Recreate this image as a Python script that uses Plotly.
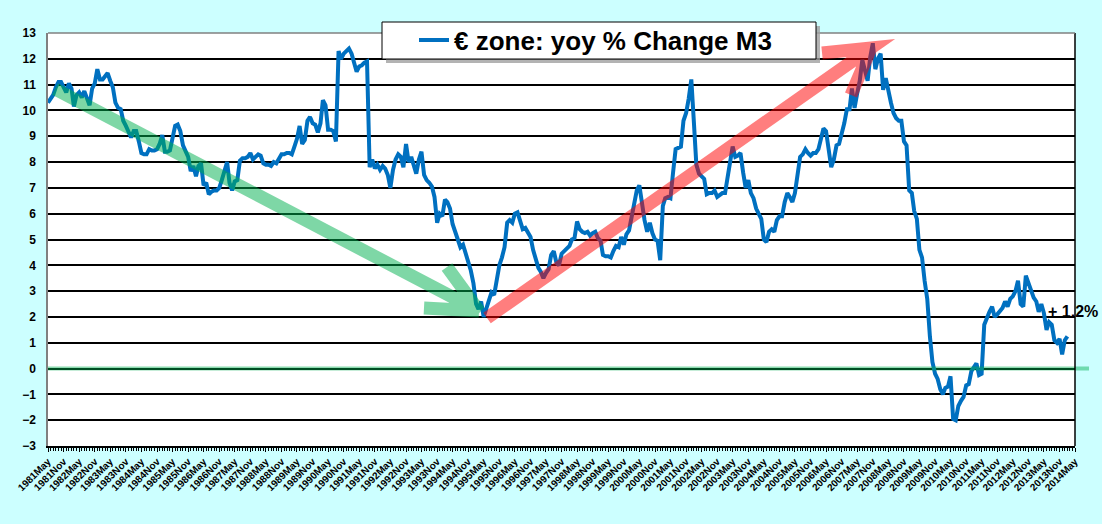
import pandas as pd
import plotly.graph_objects as go

# yoy % change of euro zone M3, monthly
m3_1981_1989 = [
    10.3, 10.45, 10.6, 10.9, 11.1, 11.1, 10.9, 10.7,
    11.05, 10.85, 10.15, 10.6, 10.7, 10.5, 10.75, 10.45, 10.2, 10.85, 11.05, 11.6,
    11.2, 11.2, 11.3, 11.45, 11.15, 10.9, 10.3, 10.1, 10.05, 9.6, 9.4, 9.2,
    8.95, 9.2, 9.2, 8.8, 8.35, 8.3, 8.3, 8.5, 8.45, 8.45, 8.5, 8.7,
    9.05, 8.4, 8.4, 8.45, 8.85, 9.4, 9.45, 9.2, 8.65, 8.4, 8.2, 7.65,
    7.85, 7.45, 7.85, 7.95, 7.1, 7.2, 6.75, 6.85, 6.9, 6.9, 7.0, 7.3,
    7.6, 8.0, 7.2, 6.9, 7.25, 7.3, 8.05, 8.15, 8.15, 8.2, 8.35, 8.1,
    8.2, 8.3, 8.25, 7.95, 7.9, 7.9, 7.85, 8.0, 7.95, 8.15, 8.3, 8.3,
    8.35, 8.35, 8.3, 8.6, 8.9, 9.4, 8.7, 8.85, 9.6, 9.75, 9.5, 9.45,
]
m3_1990_1999 = [
    9.15, 9.5, 10.4, 10.2, 9.25, 9.25, 9.2, 8.8, 12.3, 12.0, 12.2, 12.3,
    12.4, 12.2, 11.8, 11.5, 11.7, 11.75, 11.85, 11.9, 7.8, 8.1, 7.75, 7.9,
    7.7, 7.85, 7.75, 7.5, 7.0, 7.7, 8.1, 8.3, 8.2, 7.8, 8.7, 8.0,
    8.2, 7.8, 7.55, 8.1, 8.4, 7.5, 7.3, 7.2, 7.05, 6.65, 5.65, 6.0,
    5.9, 6.55, 6.45, 6.2, 5.6, 5.3, 5.0, 4.7, 4.8, 4.5, 4.1, 3.8,
    3.3, 2.5, 2.3, 2.6, 2.0, 2.3, 2.6, 2.95, 2.85, 3.4, 4.0, 4.3,
    4.7, 5.65, 5.75, 5.65, 6.0, 6.05, 5.75, 5.4, 5.45, 5.25, 5.1, 4.6,
    4.2, 3.9, 3.75, 3.5, 3.7, 3.85, 4.4, 4.55, 4.1, 4.0, 4.45, 4.55,
    4.65, 4.75, 5.0, 5.05, 5.7, 5.4, 5.3, 5.25, 5.3, 5.15, 5.25, 5.3,
    5.05, 4.95, 4.4, 4.35, 4.35, 4.3, 4.55, 4.75, 4.7, 5.1, 4.8, 5.2,
]
m3_2000_2009 = [
    5.35, 5.9, 6.4, 6.9, 7.1, 6.4, 5.75, 5.3, 5.65, 5.25, 5.0, 4.95,
    4.2, 6.3, 6.6, 6.65, 6.6, 7.6, 8.5, 8.55, 8.6, 9.6, 9.9, 10.45,
    11.2, 9.5, 7.9, 7.55, 7.45, 7.35, 6.75, 6.8, 6.8, 6.9, 6.65, 6.75,
    6.8, 6.8, 7.5, 8.0, 8.6, 8.2, 8.25, 8.35, 7.6, 7.0, 7.3, 6.8,
    6.6, 6.2, 6.0, 5.8, 5.0, 4.9, 5.3, 5.4, 5.3, 5.75, 5.9, 5.9,
    6.45, 6.8, 6.65, 6.45, 6.8, 7.5, 8.2, 8.3, 8.5, 8.35, 8.25, 8.35,
    8.35, 8.5, 8.9, 9.3, 9.2, 8.6, 7.8, 8.1, 8.65, 8.7, 9.1, 9.5,
    10.05, 10.05, 10.85, 10.1, 10.65, 11.15, 11.95, 11.55, 11.15, 12.05, 12.6, 11.6,
    12.0, 12.2, 10.8, 11.25, 10.7, 10.3, 9.9, 9.7, 9.6, 9.6, 8.8, 8.65,
    6.9, 6.8, 6.1, 5.8, 4.6, 4.3, 3.4, 2.7, 1.25, 0.25, -0.2, -0.4,
]
m3_2010_2014 = [
    -0.8, -1.0, -0.75, -0.7, -0.3, -1.95, -2.0, -1.45, -1.25, -1.1, -0.65, -0.6,
    -0.1, 0.05, 0.2, -0.25, -0.2, 1.7, 2.0, 2.2, 2.4, 2.0, 2.1, 2.25,
    2.35, 2.6, 2.4, 2.7, 2.8, 3.0, 3.4, 2.5, 2.4, 3.6, 3.3, 2.95,
    2.75, 2.6, 2.2, 2.5, 2.15, 1.5, 1.8, 1.7, 1.1, 1.0, 1.15, 0.55,
    1.1, 1.25,
]
m3_yoy = m3_1981_1989 + m3_1990_1999 + m3_2000_2009 + m3_2010_2014
months = pd.date_range("1981-05-01", periods=len(m3_yoy), freq="MS")

series_name = "€ zone: yoy % Change M3"
last_label = "+ 1.2%"

fig = go.Figure()
fig.add_trace(go.Scatter(
    x=months, y=m3_yoy, mode="lines", name=series_name,
    line=dict(color="#0070C0", width=4),
))

# plot area in pixels: x 48..1075, y 33..446
def px(x):
    return (x - 48) / 1027

def py(y):
    return (446 - y) / 413

def arrow_path(start, tip, barb1, barb2):
    p = "M {:.4f},{:.4f}".format(px(start[0]), py(start[1]))
    p += " L {:.4f},{:.4f}".format(px(tip[0]), py(tip[1]))
    p += " L {:.4f},{:.4f}".format(px(barb1[0]), py(barb1[1]))
    p += " M {:.4f},{:.4f}".format(px(tip[0]), py(tip[1]))
    p += " L {:.4f},{:.4f}".format(px(barb2[0]), py(barb2[1]))
    return p

shapes = [
    # green zero line
    dict(type="line", xref="paper", yref="y", x0=0, x1=px(1089), y0=0, y1=0,
         line=dict(color="#00B050", width=4), opacity=0.45, layer="above"),
    # right and top border of the plot area
    dict(type="line", xref="paper", yref="paper", x0=1, x1=1, y0=0, y1=1,
         line=dict(color="black", width=1.5)),
    dict(type="line", xref="paper", yref="paper", x0=0, x1=1, y0=1, y1=1,
         line=dict(color="#808080", width=1.5)),
    # green trend arrow
    dict(type="path", xref="paper", yref="paper",
         path=arrow_path((55, 89), (479, 311), (447, 267), (424, 308)),
         line=dict(color="#00B050", width=13), opacity=0.5, layer="above"),
    # red trend arrow
    dict(type="path", xref="paper", yref="paper",
         path=arrow_path((487, 318), (871, 48), (822, 53), (851, 95)),
         line=dict(color="#FF0000", width=13), opacity=0.5, layer="above"),
    # legend frame with shadow
    dict(type="rect", xref="paper", yref="paper", x0=px(386), x1=px(820), y0=py(63), y1=py(26),
         fillcolor="#A0A0A0", line=dict(width=0), layer="above", opacity=0.8),
    dict(type="rect", xref="paper", yref="paper", x0=px(382), x1=px(816), y0=py(59), y1=py(22),
         fillcolor="white", line=dict(color="black", width=1), layer="above"),
]

fig.update_layout(
    width=1102, height=524,
    margin=dict(l=48, r=27, t=33, b=78),
    paper_bgcolor="#CCFFFF",
    plot_bgcolor="white",
    font=dict(family="Liberation Sans, Arial", color="black"),
    showlegend=True,
    legend=dict(
        x=px(414), xanchor="left", y=py(40), yanchor="middle",
        orientation="h",
        bgcolor="rgba(0,0,0,0)", borderwidth=0,
        font=dict(size=26, weight="bold", color="black"),
        itemwidth=30,
    ),
    shapes=shapes,
    annotations=[dict(
        x=px(1046), xref="paper", xanchor="left",
        y=2.2, yref="y", yanchor="middle",
        text=last_label, showarrow=False,
        font=dict(size=16, weight="bold", color="black"),
    )],
)

fig.update_xaxes(
    type="date",
    range=[months[0], pd.Timestamp("2014-05-01")],
    tick0="1981-05-01", dtick="M6", tickformat="%Y%b",
    tickangle=-45, tickfont=dict(size=10, weight="bold"),
    ticks="outside", ticklen=4, tickcolor="black",
    minor=dict(dtick="M1", ticks="outside", ticklen=3, tickcolor="black"),
    showgrid=False, showline=True, linecolor="black", linewidth=1.5,
)
fig.update_yaxes(
    range=[-3, 13], dtick=1,
    tickfont=dict(size=12, weight="bold"),
    showgrid=True, gridcolor="black", gridwidth=1.5,
    zeroline=False,
    showline=True, linecolor="#808080", linewidth=1.5,
    ticks="", ticklabelstandoff=8,
)

fig.write_html(
    "out.html",
    config={"displayModeBar": False},
    post_script="document.body.style.margin='0';document.body.style.overflow='hidden';",
)
